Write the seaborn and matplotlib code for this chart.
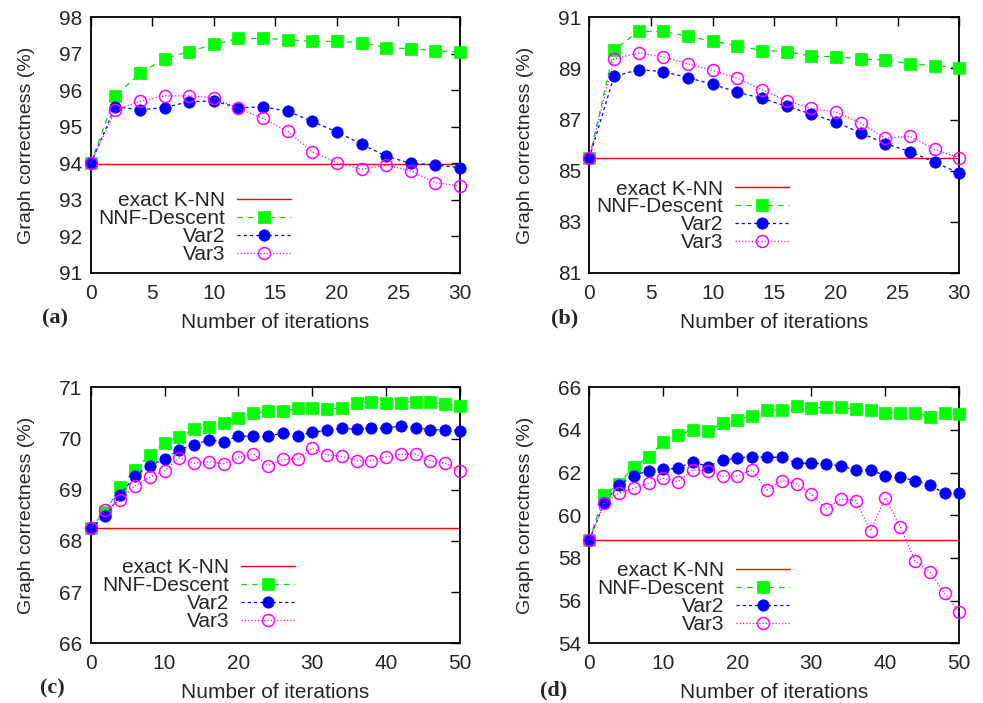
import matplotlib
matplotlib.use("Agg")
import matplotlib.pyplot as plt
import seaborn as sns

# ---- data -------------------------------------------------------------
iters_short = [0, 2, 4, 6, 8, 10, 12, 14, 16, 18, 20, 22, 24, 26, 28, 30]
iters_long = [0, 2, 4, 6, 8, 10, 12, 14, 16, 18, 20, 22, 24,
              26, 28, 30, 32, 34, 36, 38, 40, 42, 44, 46, 48, 50]

series_names = ["exact K-NN", "NNF-Descent", "Var2", "Var3"]
panel_tags = ["(a)", "(b)", "(c)", "(d)"]

a_exact = 93.98
a_nnf = [94.0, 95.84, 96.47, 96.87, 97.06, 97.26, 97.42, 97.42,
         97.39, 97.34, 97.34, 97.31, 97.17, 97.14, 97.09, 97.04]
a_var2 = [94.0, 95.55, 95.47, 95.53, 95.69, 95.71, 95.52, 95.55,
          95.43, 95.15, 94.86, 94.53, 94.20, 94.00, 93.96, 93.88]
a_var3 = [94.0, 95.45, 95.70, 95.85, 95.85, 95.79, 95.51, 95.23,
          94.88, 94.32, 94.02, 93.84, 93.95, 93.80, 93.47, 93.38]

b_exact = 85.5
b_nnf = [85.5, 89.72, 90.45, 90.45, 90.26, 90.06, 89.89, 89.70,
         89.66, 89.48, 89.46, 89.37, 89.33, 89.18, 89.11, 89.03]
b_var2 = [85.5, 88.69, 88.95, 88.88, 88.64, 88.38, 88.07, 87.83,
          87.52, 87.22, 86.90, 86.48, 86.06, 85.75, 85.33, 84.90]
b_var3 = [85.5, 89.37, 89.61, 89.45, 89.18, 88.92, 88.62, 88.17,
          87.74, 87.44, 87.29, 86.87, 86.27, 86.35, 85.83, 85.51]

c_exact = 68.26
c_nnf = [68.25, 68.57, 69.06, 69.39, 69.68, 69.92, 70.03, 70.18, 70.23,
         70.31, 70.40, 70.49, 70.53, 70.53, 70.59, 70.59, 70.57, 70.60,
         70.69, 70.72, 70.70, 70.70, 70.72, 70.72, 70.67, 70.64]
c_var2 = [68.25, 68.48, 68.90, 69.27, 69.47, 69.60, 69.78, 69.88, 69.97,
          69.94, 70.05, 70.04, 70.05, 70.10, 70.05, 70.12, 70.16, 70.20,
          70.18, 70.20, 70.20, 70.25, 70.21, 70.17, 70.17, 70.15]
c_var3 = [68.25, 68.61, 68.80, 69.08, 69.24, 69.37, 69.62, 69.52, 69.55,
          69.51, 69.63, 69.70, 69.47, 69.59, 69.60, 69.81, 69.68, 69.65,
          69.57, 69.57, 69.64, 69.69, 69.70, 69.56, 69.52, 69.37]

d_exact = 58.84
d_nnf = [58.84, 60.95, 61.47, 62.28, 62.72, 63.45, 63.77, 64.00, 63.97,
         64.31, 64.47, 64.67, 64.94, 64.94, 65.14, 65.02, 65.06, 65.06,
         64.98, 64.94, 64.78, 64.81, 64.81, 64.63, 64.78, 64.75]
d_var2 = [58.84, 60.59, 61.42, 61.86, 62.09, 62.16, 62.20, 62.52, 62.28,
          62.59, 62.69, 62.75, 62.72, 62.72, 62.44, 62.44, 62.41, 62.31,
          62.13, 62.13, 61.86, 61.78, 61.63, 61.42, 61.03, 61.03]
d_var3 = [58.84, 60.56, 61.03, 61.27, 61.50, 61.73, 61.58, 62.13, 62.08,
          61.84, 61.84, 62.13, 61.19, 61.63, 61.47, 60.98, 60.30, 60.77,
          60.69, 59.27, 60.83, 59.47, 57.88, 57.36, 56.34, 55.45]

# ---- styling ----------------------------------------------------------
sns.set_style("white")
plt.rcParams["font.family"] = ["Liberation Sans", "DejaVu Sans"]
plt.rcParams["font.size"] = 15

FS = 15
LINE_STYLES = {
    "NNF-Descent": dict(color="#00e000", linestyle=(0, (4.5, 4.0)), marker="s",
                        markersize=8.6, mfc="#00ff00", mec="#00ff00", mew=0.5),
    "Var2": dict(color="#0000ff", linestyle=(0, (2.5, 2.5)), marker="o",
                 markersize=8.2, mfc="#0000ff", mec="#0000ff", mew=0.5),
    "Var3": dict(color="#ff00ff", linestyle=(0, (1.0, 1.6)), marker="o",
                 markersize=8.6, mfc="none", mec="#ff00ff", mew=1.1),
}

panels = [
    dict(x=iters_short, exact=a_exact, nnf=a_nnf, var2=a_var2, var3=a_var3,
         ylim=(91, 98), ystep=1, xlim=(0, 30), xstep=5,
         rect=(90.7, 17.3, 460.0, 273.0), leg=(0.542, 0.178),
         tag_xy=(42, 323)),
    dict(x=iters_short, exact=b_exact, nnf=b_nnf, var2=b_var2, var3=b_var3,
         ylim=(81, 91), ystep=2, xlim=(0, 30), xstep=5,
         rect=(589.3, 17.3, 959.3, 273.0), leg=(0.540, 0.223),
         tag_xy=(551, 323)),
    dict(x=iters_long, exact=c_exact, nnf=c_nnf, var2=c_var2, var3=c_var3,
         ylim=(66, 71), ystep=1, xlim=(0, 50), xstep=10,
         rect=(90.7, 387.3, 460.0, 643.3), leg=(0.553, 0.189),
         tag_xy=(40, 693)),
    dict(x=iters_long, exact=d_exact, nnf=d_nnf, var2=d_var2, var3=d_var3,
         ylim=(54, 66), ystep=2, xlim=(0, 50), xstep=10,
         rect=(589.3, 387.3, 959.3, 643.3), leg=(0.542, 0.179),
         tag_xy=(540, 695)),
]

W, H = 983, 703
fig = plt.figure(figsize=(W / 100, H / 100), dpi=100)

for tag, p in zip(panel_tags, panels):
    x0, y0, x1, y1 = p["rect"]
    ax = fig.add_axes([x0 / W, 1 - y1 / H, (x1 - x0) / W, (y1 - y0) / H])

    ax.axhline(p["exact"], color="#ff0000", lw=1.0, label=series_names[0], zorder=2)
    for name, key in zip(series_names[1:], ["nnf", "var2", "var3"]):
        sns.lineplot(x=p["x"], y=p[key], ax=ax, label=name, lw=0.9,
                     estimator=None, sort=False, clip_on=False, zorder=3,
                     **LINE_STYLES[name])

    ax.set_xlim(*p["xlim"])
    ax.set_ylim(*p["ylim"])
    ax.set_xticks(range(p["xlim"][0], p["xlim"][1] + 1, p["xstep"]))
    ax.set_yticks(range(p["ylim"][0], p["ylim"][1] + 1, p["ystep"]))
    ax.tick_params(direction="in", length=6.5, width=1.0, top=True, right=True,
                   labelsize=FS, color="black")
    ax.tick_params(axis="x", pad=8)
    ax.tick_params(axis="y", pad=6)
    for s in ax.spines.values():
        s.set_visible(True)
        s.set_color("black")
        s.set_linewidth(1.3)

    ax.set_xlabel("Number of iterations", fontsize=FS, labelpad=7)
    ax.set_ylabel("Graph correctness (%)", fontsize=14)
    ax.yaxis.set_label_coords(-0.150, 0.5)

    ax.legend(loc="center right", bbox_to_anchor=p["leg"], frameon=False,
              fontsize=FS, markerfirst=False, handlelength=2.6,
              handletextpad=0.55, labelspacing=-0.05, borderpad=0,
              borderaxespad=0, numpoints=1)

    tx, ty = p["tag_xy"]
    fig.text(tx / W, 1 - ty / H, tag, fontsize=16, fontweight="bold",
             family=["Liberation Serif", "DejaVu Serif"], va="baseline", ha="left")

fig.savefig("out.png", dpi=100)
